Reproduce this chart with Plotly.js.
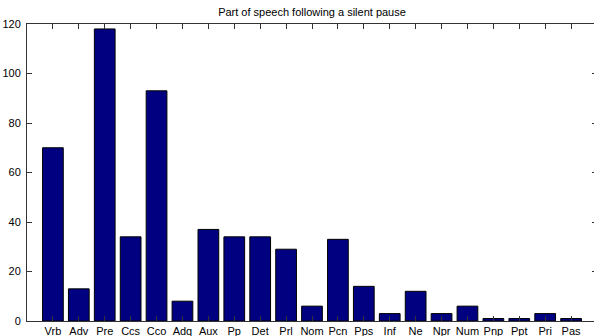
<!DOCTYPE html>
<html>
<head>
<meta charset="utf-8">
<script src="https://cdn.plot.ly/plotly-3.0.1.min.js"></script>
<style>
  html, body { margin: 0; padding: 0; width: 594px; height: 336px; overflow: hidden; background: #fff; }
  #chart { width: 598px; height: 336px; }
</style>
</head>
<body>
<div id="chart"></div>
<script>
// Part-of-speech tags and how often each follows a silent pause
const tags = ["Vrb", "Adv", "Pre", "Ccs", "Cco", "Adq", "Aux", "Pp", "Det", "Prl",
              "Nom", "Pcn", "Pps", "Inf", "Ne", "Npr", "Num", "Pnp", "Ppt", "Pri", "Pas"];
const counts = [70, 13, 118, 34, 93, 8, 37, 34, 34, 29,
                6, 33, 14, 3, 12, 3, 6, 1, 1, 3, 1];
const yTicks = [0, 20, 40, 60, 80, 100, 120];

const axisFont = { family: "Liberation Sans, Arial, sans-serif", size: 11, color: "#000" };

const trace = {
  type: "bar",
  x: tags,
  y: counts,
  width: 0.8,
  marker: { color: "#000080", line: { color: "#000", width: 1 } },
  hoverinfo: "x+y"
};

const layout = {
  width: 598,
  height: 336,
  margin: { l: 27, r: 1, t: 24, b: 15, pad: 0 },
  paper_bgcolor: "#fff",
  plot_bgcolor: "#fff",
  showlegend: false,
  title: {
    text: "Part of speech following a silent pause",
    font: { family: "Liberation Sans, Arial, sans-serif", size: 11, color: "#000" },
    x: 0.5, xref: "paper", xanchor: "center",
    y: 1 - 12 / 336, yref: "container", yanchor: "middle"
  },
  xaxis: {
    type: "category",
    categoryorder: "array",
    categoryarray: tags,
    range: [-1, tags.length],
    showgrid: false,
    zeroline: false,
    showline: true,
    linecolor: "#333",
    linewidth: 1,
    mirror: "ticks",
    ticks: "inside",
    ticklen: 5,
    tickwidth: 1,
    tickcolor: "#333",
    tickfont: axisFont,
    ticklabelstandoff: 0
  },
  yaxis: {
    range: [0, 120],
    tickvals: yTicks,
    ticktext: yTicks.map(String),
    showgrid: false,
    zeroline: false,
    showline: true,
    linecolor: "#333",
    linewidth: 1,
    mirror: "ticks",
    ticks: "inside",
    ticklen: 5,
    tickwidth: 1,
    tickcolor: "#333",
    tickfont: axisFont,
    ticklabelstandoff: 3
  }
};

Plotly.newPlot("chart", [trace], layout, { displayModeBar: false, staticPlot: true });
</script>
</body>
</html>
